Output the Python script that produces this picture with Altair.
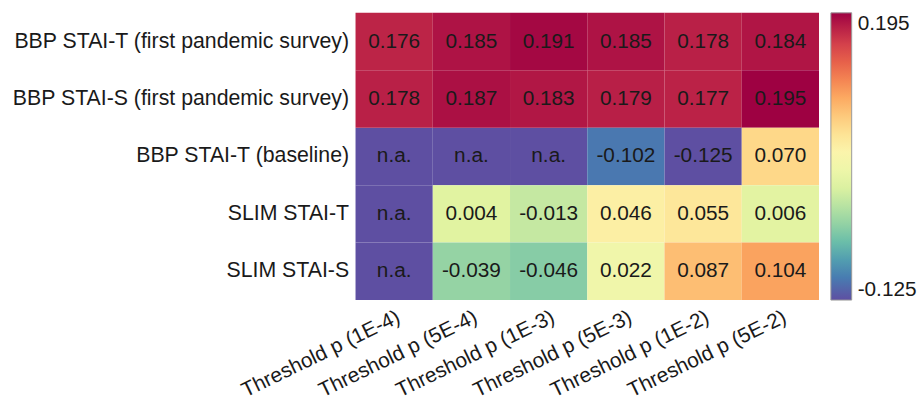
import altair as alt
import pandas as pd

# Rows (outcome measures) and columns (p-value thresholds)
measures = [
    "BBP STAI-T (first pandemic survey)",
    "BBP STAI-S (first pandemic survey)",
    "BBP STAI-T (baseline)",
    "SLIM STAI-T",
    "SLIM STAI-S",
]
thresholds = [
    "Threshold p (1E-4)",
    "Threshold p (5E-4)",
    "Threshold p (1E-3)",
    "Threshold p (5E-3)",
    "Threshold p (1E-2)",
    "Threshold p (5E-2)",
]

# Correlation per measure across thresholds (None = not available)
bbp_t_pandemic = [0.176, 0.185, 0.191, 0.185, 0.178, 0.184]
bbp_s_pandemic = [0.178, 0.187, 0.183, 0.179, 0.177, 0.195]
bbp_t_baseline = [None, None, None, -0.102, -0.125, 0.070]
slim_t = [None, 0.004, -0.013, 0.046, 0.055, 0.006]
slim_s = [None, -0.039, -0.046, 0.022, 0.087, 0.104]

series = [bbp_t_pandemic, bbp_s_pandemic, bbp_t_baseline, slim_t, slim_s]
color_domain = [-0.125, 0.195]

rows = []
for m, vals in zip(measures, series):
    for t, v in zip(thresholds, vals):
        rows.append({
            "measure": m,
            "threshold": t,
            "r": v,
            "label": "n.a." if v is None else f"{v:.3f}",
        })
df = pd.DataFrame(rows)

FONT = "Liberation Sans"
NA_COLOR = "#5e4fa2"
TEXT_COLOR = "#1a1a1a"

base = alt.Chart(df).encode(
    x=alt.X("threshold:N", sort=thresholds, title=None,
            axis=alt.Axis(labelAngle=334, labelFontSize=21, labelFont=FONT,
                          labelColor=TEXT_COLOR, ticks=False, domain=False,
                          labelPadding=6)),
    y=alt.Y("measure:N", sort=measures, title=None,
            axis=alt.Axis(labelFontSize=21.5, labelFont=FONT,
                          labelColor=TEXT_COLOR, ticks=False, domain=False,
                          labelPadding=7, labelLimit=400)),
)

# cells without a value are painted with the low end of the scale
na_cells = base.transform_filter("!isValid(datum.r)").mark_rect(color=NA_COLOR)

cells = base.transform_filter("isValid(datum.r)").mark_rect().encode(
    color=alt.Color("r:Q",
                    scale=alt.Scale(scheme="spectral", reverse=True,
                                    domain=color_domain),
                    legend=alt.Legend(
                        title=None, values=color_domain,
                        labelExpr="datum.value < 0 ? '-' + format(-datum.value, '.3f') : format(datum.value, '.3f')",
                        gradientLength=290, gradientThickness=21,
                        gradientStrokeColor="#999999", gradientStrokeWidth=1,
                        labelFontSize=21, labelFont=FONT,
                        labelColor=TEXT_COLOR, labelOffset=6, offset=12)),
)

texts = base.mark_text(fontSize=21, font=FONT, color=TEXT_COLOR).encode(
    text="label:N"
)

chart = (na_cells + cells + texts).properties(
    width=468, height=290,
    padding={"left": 11, "top": 11, "right": 5, "bottom": 5},
).configure_view(stroke=None)

chart.save("out.html", embed_options={"renderer": "svg", "actions": False})
